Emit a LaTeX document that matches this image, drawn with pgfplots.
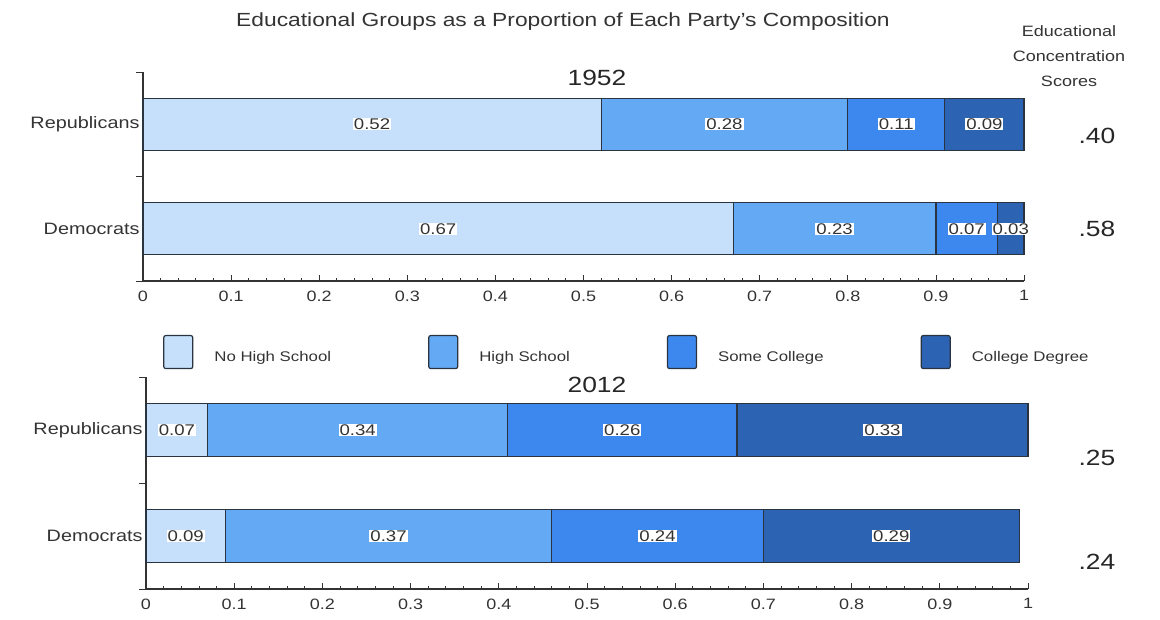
\documentclass[border=0pt]{standalone}
\usepackage{pgfplots}
\pgfplotsset{compat=1.18}
\usepackage{fontspec}
\setmainfont{Liberation Sans}[FakeStretch=1.2]
\definecolor{cNHS}{HTML}{C6DFFA}
\definecolor{cHS}{HTML}{64A9F4}
\definecolor{cSC}{HTML}{3D88EE}
\definecolor{cCD}{HTML}{2D63B3}
\definecolor{edge}{HTML}{2A3340}
\definecolor{txt}{HTML}{333333}
\pgfplotsset{
  edstyle/.style={
    scale only axis, xbar stacked,
    xmin=0, xmax=1, ymin=-0.5, ymax=1.5,
    axis lines*=left, axis line style={-, draw=txt, line width=1.2pt},
    xtick={0,0.1,0.2,0.3,0.4,0.5,0.6,0.7,0.8,0.9,1},
    xticklabels={0,0.1,0.2,0.3,0.4,0.5,0.6,0.7,0.8,0.9,1},
    minor x tick num=4,
    xtick align=inside, major tick length=6pt, minor tick length=3pt,
    x tick style={draw=txt, line width=0.8pt},
    ytick={0,1}, yticklabels={Democrats,Republicans},
    y tick style={draw=none},
    extra y ticks={-0.5,0.5,1.5}, extra y tick labels={},
    extra y tick style={tick align=outside, major tick length=7pt, y tick style={draw=txt, line width=0.8pt}},
    yticklabel style={font=\fontsize{16.5}{18}\selectfont, text=txt},
    xticklabel style={font=\fontsize{15}{17}\selectfont, text=txt, yshift=-6pt},
    every axis plot/.append style={draw=edge, line width=1.2pt},
    nodes near coords, point meta=explicit symbolic,
    every node near coord/.append style={anchor=center, fill=white, inner xsep=1pt, inner ysep=0.5pt, font=\fontsize{15.5}{16}\selectfont, text=txt},
    clip=false,
  }
}
\begin{document}
\begin{tikzpicture}
\useasboundingbox (0,0) rectangle (1160pt,-619pt);
% 1952
\begin{axis}[edstyle, at={(143pt,-281pt)}, anchor=south west, width=881pt, height=209pt, bar width=52pt,
  legend columns=4,
  legend style={at={(0.0227,-0.34)}, anchor=west, draw=none, fill=none, inner sep=0pt,
    font=\fontsize{14}{16}\selectfont, text=txt,
    /tikz/every odd column/.append style={column sep=19pt},
    /tikz/every even column/.append style={column sep=95pt}},
  legend image code/.code={\draw[#1, rounded corners=2pt] (0pt,-11pt) rectangle (29pt,22pt);}]
\addplot[fill=cNHS] coordinates {(0.67,0)[0.67] (0.52,1)[0.52]};
\addplot[fill=cHS] coordinates {(0.23,0)[0.23] (0.28,1)[0.28]};
\addplot[fill=cSC] coordinates {(0.07,0)[0.07] (0.11,1)[0.11]};
\addplot[fill=cCD] coordinates {(0.03,0)[0.03] (0.09,1)[0.09]};
\legend{No High School, High School, Some College, College Degree}
\end{axis}
% 2012
\begin{axis}[edstyle, at={(146pt,-589pt)}, anchor=south west, width=882pt, height=212pt, bar width=53pt]
\addplot[fill=cNHS] coordinates {(0.09,0)[0.09] (0.07,1)[0.07]};
\addplot[fill=cHS] coordinates {(0.37,0)[0.37] (0.34,1)[0.34]};
\addplot[fill=cSC] coordinates {(0.24,0)[0.24] (0.26,1)[0.26]};
\addplot[fill=cCD] coordinates {(0.29,0)[0.29] (0.33,1)[0.33]};
\end{axis}
\node[font=\fontsize{19}{22}\selectfont, text=txt] at (563pt,-22pt) {Educational Groups as a Proportion of Each Party's Composition};
\node[font=\fontsize{22}{24}\selectfont, text=black!85] at (597pt,-78pt) {1952};
\node[font=\fontsize{22}{24}\selectfont, text=black!85] at (597pt,-385pt) {2012};
\node[align=center, font=\fontsize{15}{25}\selectfont, text=txt] at (1069pt,-56pt) {Educational\\Concentration\\Scores};
\node[font=\fontsize{22}{24}\selectfont, text=black!85] at (1097pt,-136pt) {.40};
\node[font=\fontsize{22}{24}\selectfont, text=black!85] at (1097pt,-229pt) {.58};
\node[font=\fontsize{22}{24}\selectfont, text=black!85] at (1097pt,-458pt) {.25};
\node[font=\fontsize{22}{24}\selectfont, text=black!85] at (1097pt,-562pt) {.24};
\end{tikzpicture}
\end{document}
